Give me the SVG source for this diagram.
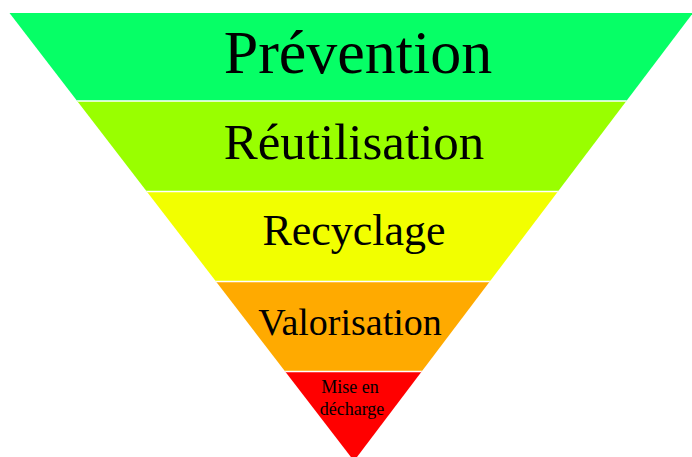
<svg xmlns="http://www.w3.org/2000/svg" width="692" height="457" viewBox="0 0 692 457">
<defs>
<style>
.lbl{font-family:"Liberation Serif","Times New Roman",serif;fill:#000;text-anchor:middle}
.sep{stroke:#fff;stroke-width:1.5}
</style>
<clipPath id="tri"><polygon points="9.5,13 693,13 354,461"/></clipPath>
</defs>
<rect width="692" height="457" fill="#fff"/>
<g clip-path="url(#tri)">
<g id="prevention"><rect x="0" y="13" width="700" height="88" fill="#06FF66"/><text class="lbl" x="358" y="73" font-size="62">Prévention</text></g>
<g id="reutilisation"><rect x="0" y="101" width="700" height="90.5" fill="#99FF00"/><text class="lbl" x="354" y="159" font-size="51">Réutilisation</text></g>
<g id="recyclage"><rect x="0" y="191.5" width="700" height="90" fill="#F2FF00"/><text class="lbl" x="354" y="245" font-size="44">Recyclage</text></g>
<g id="valorisation"><rect x="0" y="281.5" width="700" height="90" fill="#FFAA00"/><text class="lbl" x="350" y="335" font-size="38">Valorisation</text></g>
<g id="decharge"><rect x="0" y="371.5" width="700" height="90" fill="#FF0000"/><text class="lbl" x="350" y="392.5" font-size="18">Mise en</text><text class="lbl" x="352" y="415" font-size="18">décharge</text></g>
<g id="separators"><line class="sep" x1="0" y1="101" x2="700" y2="101"/><line class="sep" x1="0" y1="191.5" x2="700" y2="191.5"/><line class="sep" x1="0" y1="281.5" x2="700" y2="281.5"/><line class="sep" x1="0" y1="371.5" x2="700" y2="371.5"/></g>
</g>
</svg>
